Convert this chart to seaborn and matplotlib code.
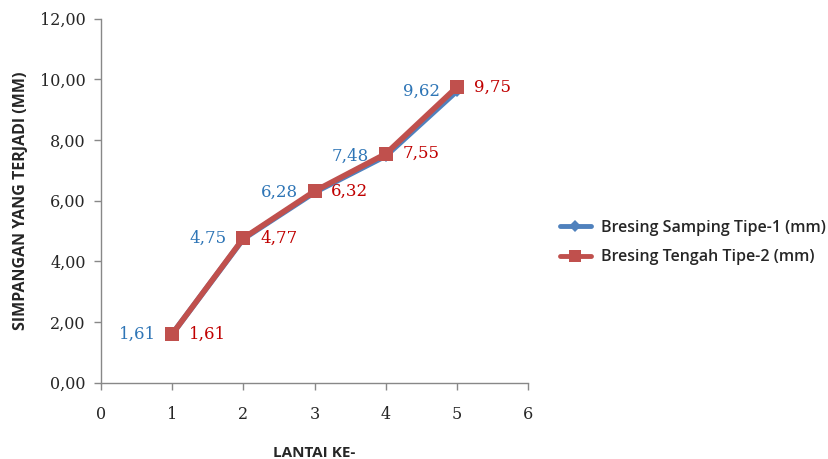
import matplotlib
matplotlib.use("Agg")
import matplotlib.pyplot as plt
import seaborn as sns
import pandas as pd

lantai = [1, 2, 3, 4, 5]
samping = [1.61, 4.75, 6.28, 7.48, 9.62]
tengah = [1.61, 4.77, 6.32, 7.55, 9.75]
name1 = "Bresing Samping Tipe-1 (mm)"
name2 = "Bresing Tengah Tipe-2 (mm)"
xticks = [0, 1, 2, 3, 4, 5, 6]
yticks = [0, 2, 4, 6, 8, 10, 12]

sns.set_style("white")
blue = "#4F81BD"
red = "#C0504D"
blue_txt = "#2E75B6"
red_txt = "#C00000"

df = pd.DataFrame({"x": lantai * 2, "y": samping + tengah,
                   "s": [name1] * 5 + [name2] * 5})

fig = plt.figure(figsize=(8.29, 4.59), dpi=100)
ax = fig.add_axes([0.122, 0.166, 0.515, 0.793])
sns.lineplot(data=df, x="x", y="y", hue="s", style="s",
             palette={name1: blue, name2: red},
             markers={name1: "D", name2: "s"}, dashes=False,
             linewidth=4, markersize=10.5, markeredgewidth=0, ax=ax)
ax.lines[0].set_markersize(6)

for x, y in zip(lantai, samping):
    ax.annotate(f"{y:.2f}".replace(".", ","), (x, y), xytext=(-12, 0),
                textcoords="offset points", ha="right", va="center",
                color=blue_txt, fontsize=12, family="DejaVu Serif")
for x, y in zip(lantai, tengah):
    ax.annotate(f"{y:.2f}".replace(".", ","), (x, y), xytext=(12, 0),
                textcoords="offset points", ha="left", va="center",
                color=red_txt, fontsize=12, family="DejaVu Serif")

ax.set_xlim(0, 6)
ax.set_ylim(0, 12)
ax.set_xticks(xticks)
ax.set_yticks(yticks)
ax.set_xticklabels([str(v) for v in xticks], family="DejaVu Serif", fontsize=11.5)
ax.set_yticklabels([f"{v:.2f}".replace(".", ",") for v in yticks],
                   family="DejaVu Serif", fontsize=11.5)
for s in ["top", "right"]:
    ax.spines[s].set_visible(False)
for s in ["left", "bottom"]:
    ax.spines[s].set_color("#888888")
    ax.spines[s].set_linewidth(1)
ax.tick_params(axis="both", which="both", direction="out", length=5,
               color="#888888", width=1, bottom=True, left=True)
ax.tick_params(axis="x", pad=12)
ax.tick_params(axis="y", pad=6)

ax.set_xlabel("LANTAI KE-", family="Open Sans", fontweight="bold", fontsize=11,
              labelpad=16)
ax.set_ylabel("SIMPANGAN YANG TERJADI (MM)", family="Open Sans",
              fontweight="bold", fontsize=11.5, labelpad=8)

leg = ax.legend(loc="center left", bbox_to_anchor=(1.04, 0.385), frameon=False,
                prop={"family": "Open Sans", "size": 11.5, "weight": "semibold"},
                handlelength=2.0, labelspacing=0.85, handletextpad=0.6)
for h in leg.legend_handles:
    h.set_linewidth(3.5)
leg.legend_handles[0].set_markersize(6)
leg.legend_handles[1].set_markersize(9)

fig.savefig("out.png", dpi=100)
